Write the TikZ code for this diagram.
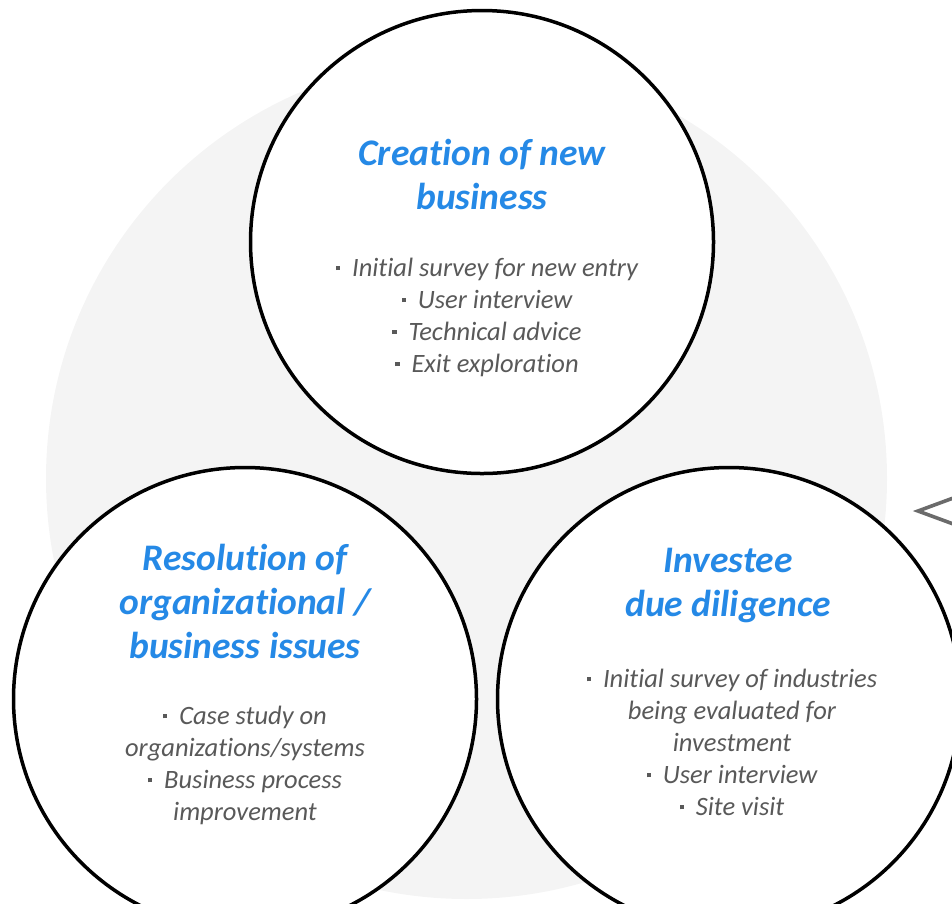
\documentclass[tikz,border=0pt]{standalone}
\usepackage{fontspec}
\setmainfont{Carlito}[Ligatures={NoCommon,NoRequired}]
\definecolor{bgray}{HTML}{F4F4F4}
\definecolor{headblue}{HTML}{2589E6}
\definecolor{bodygray}{HTML}{595959}
\definecolor{chevgray}{HTML}{6B6B6B}
\newcommand\bul{{\color{bodygray}\rule[0.22em]{0.16em}{0.16em}}\hspace{0.45em}}
\tikzset{
  area/.style={circle, draw=black, line width=3.5pt, fill=white, minimum size=463pt, inner sep=0pt},
  headtext/.style={align=center, text=headblue, font=\fontsize{37.5}{44}\selectfont\bfseries\itshape, inner sep=0pt},
  itemtext/.style={align=center, text=bodygray, font=\fontsize{26.5}{32}\selectfont\itshape, inner sep=0pt}
}
\begin{document}
\begin{tikzpicture}[x=1pt,y=-1pt]
\useasboundingbox (0,0) rectangle (952,903);
\clip (0,0) rectangle (952,903);
% soft backdrop disc
\fill[bgray] (466.5,478.5) circle[radius=420.5pt];
% the three fields
\node[area] (top) at (482,242) {};
\node[area] (left) at (245,699) {};
\node[area] (right) at (729,699) {};
% top field
\node[headtext] (toph) at (482,174) {Creation of new\\business};
\node[itemtext] (topb) at (487,317) {\bul Initial survey for new entry\\\bul User interview\\\bul Technical advice\\\bul Exit exploration};
% left field
\node[headtext] (lefth) at (245,601) {Resolution of\\organizational /\\business issues};
\node[itemtext] (leftb) at (245,765) {\bul Case study on\\organizations/systems\\\bul Business process\\improvement};
% right field
\node[headtext] (righth) at (728,585) {Investee\\due diligence};
\node[itemtext] (rightb) at (732,742) {\bul Initial survey of industries\\being evaluated for\\investment\\\bul User interview\\\bul Site visit};
% chevron at the right edge
\draw[chevgray, line width=3.6pt, line join=miter] (956,497) -- (918,511) -- (956,525);
\end{tikzpicture}
\end{document}
